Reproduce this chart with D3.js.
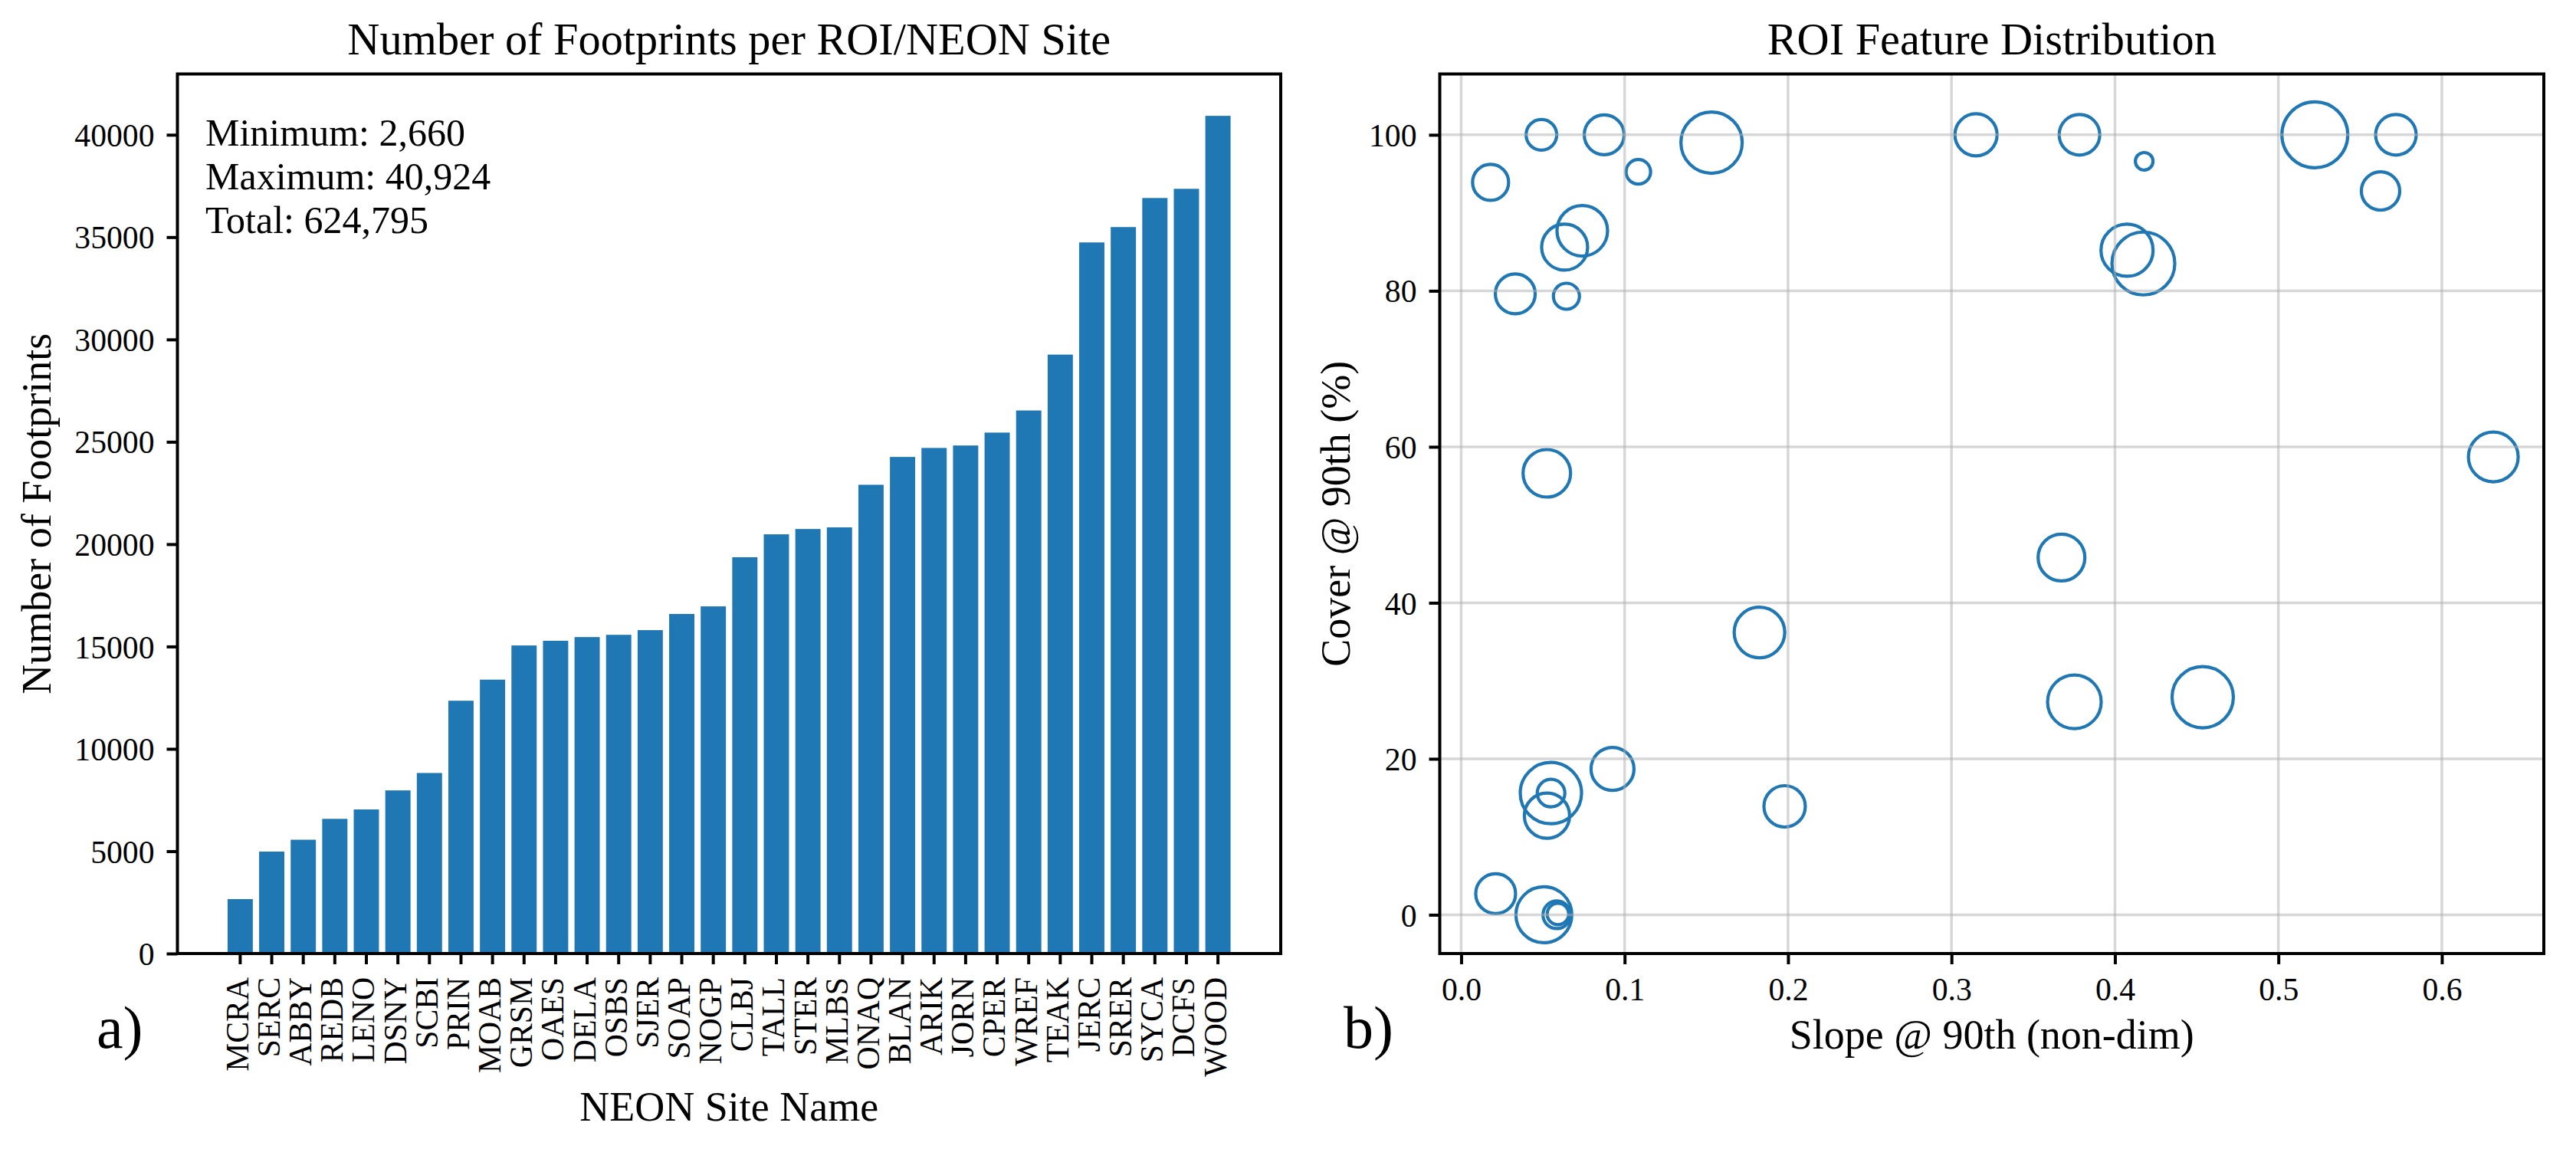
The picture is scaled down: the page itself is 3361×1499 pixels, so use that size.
<!DOCTYPE html>
<html>
<head>
<meta charset="utf-8">
<script src="https://cdn.jsdelivr.net/npm/d3@7"></script>
<style>
  html, body { margin: 0; padding: 0; background: #ffffff; }
  svg { display: block; font-family: "Liberation Serif", "Times New Roman", serif; }
</style>
</head>
<body>
<script>
// ---------------- data ----------------
const sites = ["MCRA","SERC","ABBY","REDB","LENO","DSNY","SCBI","PRIN","MOAB","GRSM","OAES","DELA","OSBS","SJER","SOAP","NOGP","CLBJ","TALL","STER","MLBS","ONAQ","BLAN","ARIK","JORN","CPER","WREF","TEAK","JERC","SRER","SYCA","DCFS","WOOD"];
const footprints = [2660,4980,5560,6580,7040,7970,8820,12350,13380,15050,15280,15460,15570,15800,16590,16960,19360,20480,20740,20820,22900,24260,24700,24820,25450,26530,29260,34740,35490,36910,37360,40924];
const footprintTicks = [0,5000,10000,15000,20000,25000,30000,35000,40000];
const summaryLines = ["Minimum: 2,660","Maximum: 40,924","Total: 624,795"];

const slope = [0.0491,0.0875,0.1532,0.1084,0.0180,0.0741,0.0633,0.0331,0.0644,
               0.3150,0.3783,0.4179,0.5223,0.5719,0.5625,0.4074,0.4174,
               0.0524,0.6315,0.3673,0.1825,0.3752,0.4537,
               0.0926,0.1979,0.0549,0.0550,0.0525,
               0.0211,0.0506,0.0585,0.0592];
const cover = [100,100,99.0,95.25,93.9,87.7,85.6,79.6,79.3,
               100,100,96.6,100,100,92.8,85.2,83.5,
               56.6,58.7,45.8,36.2,27.3,27.9,
               18.7,13.9,15.6,15.6,12.7,
               2.7,0,0,0.1];
const bubbleArea = [400,676,1600,256,552,1089,900,676,289,
                    756,702,132,1849,702,625,1156,1681,
                    961,1056,930,1089,1225,1600,
                    784,729,1600,324,870,
                    676,1332,324,196];
const slopeTicks = [0,0.1,0.2,0.3,0.4,0.5,0.6];
const coverTicks = [0,20,40,60,80,100];

// ---------------- layout ----------------
const W = 3361, H = 1499;
const FONT = "'Liberation Serif', 'Times New Roman', serif";
const svg = d3.select("body").append("svg").attr("width", W).attr("height", H);
svg.append("rect").attr("width", W).attr("height", H).attr("fill", "#fff");

const TICK_FS = 41.7, LABEL_FS = 54, TITLE_FS = 58.3;
const SPINE_W = 4, TICK_LEN = 14;
const blue = "#1f77b4";

function styleAxis(g) {
  g.attr("font-family", FONT).attr("font-size", TICK_FS);
  g.select(".domain").remove();
  g.selectAll(".tick line").attr("stroke", "#000").attr("stroke-width", SPINE_W);
  g.selectAll(".tick text").attr("fill", "#000")
    .style("font-family", FONT).style("font-size", TICK_FS + "px");
}

// ---------- Panel a: bar chart ----------
const A = {l: 231.5, r: 1671, t: 96.5, b: 1244};
const x = d3.scaleBand().domain(sites).range([A.l, A.r]).paddingInner(0.2).paddingOuter(1.59);
const y = d3.scaleLinear().domain([0, 42970]).range([A.b, A.t]);
const gA = svg.append("g");

gA.selectAll("rect.bar").data(sites).join("rect")
  .attr("class", "bar")
  .attr("x", d => x(d))
  .attr("width", x.bandwidth())
  .attr("y", (d, i) => y(footprints[i]))
  .attr("height", (d, i) => y(0) - y(footprints[i]))
  .attr("fill", blue);

const xAxA = gA.append("g").attr("transform", `translate(0,${A.b})`)
  .call(d3.axisBottom(x).tickSize(TICK_LEN).tickSizeOuter(0));
styleAxis(xAxA);
xAxA.selectAll(".tick text")
  .attr("transform", "rotate(-90)")
  .attr("x", -31).attr("y", 0).attr("dy", "0.25em")
  .style("text-anchor", "end");

const yAxA = gA.append("g").attr("transform", `translate(${A.l},0)`)
  .call(d3.axisLeft(y).tickValues(footprintTicks).tickFormat(d3.format("d")).tickSize(TICK_LEN).tickSizeOuter(0));
styleAxis(yAxA);
yAxA.selectAll(".tick text").attr("x", -30).attr("dy", "0.35em");

gA.append("rect").attr("x", A.l).attr("y", A.t).attr("width", A.r - A.l).attr("height", A.b - A.t)
  .attr("fill", "none").attr("stroke", "#000").attr("stroke-width", SPINE_W);

gA.selectAll("text.summary").data(summaryLines).join("text")
  .attr("class", "summary")
  .attr("x", 268).attr("y", (d, i) => 190 + i * 57)
  .style("font-size", "50px").text(d => d);

gA.append("text").attr("x", (A.l + A.r) / 2).attr("y", 70.7).attr("text-anchor", "middle")
  .style("font-size", TITLE_FS + "px").text("Number of Footprints per ROI/NEON Site");
gA.append("text").attr("x", (A.l + A.r) / 2).attr("y", 1462).attr("text-anchor", "middle")
  .style("font-size", LABEL_FS + "px").text("NEON Site Name");
gA.append("text").attr("transform", `translate(66,${(A.t + A.b) / 2}) rotate(-90)`).attr("text-anchor", "middle")
  .style("font-size", LABEL_FS + "px").text("Number of Footprints");
gA.append("text").attr("x", 126).attr("y", 1367).style("font-size", "78px").text("a)");

// ---------- Panel b: bubble scatter ----------
const B = {l: 1878.5, r: 3319, t: 96.5, b: 1244};
const sx = d3.scaleLinear().domain([-0.0131, 0.6624]).range([B.l, B.r]);
const sy = d3.scaleLinear().domain([-4.97, 107.8]).range([B.b, B.t]);
const rs = d3.scaleSqrt().domain([0, 2000]).range([0, Math.sqrt(2000)]);
const gB = svg.append("g");

gB.append("clipPath").attr("id", "clipB").append("rect")
  .attr("x", B.l).attr("y", B.t).attr("width", B.r - B.l).attr("height", B.b - B.t);

gB.append("g").attr("clip-path", "url(#clipB)")
  .selectAll("circle").data(slope).join("circle")
  .attr("cx", (d, i) => sx(slope[i]))
  .attr("cy", (d, i) => sy(cover[i]))
  .attr("r", (d, i) => rs(bubbleArea[i]))
  .attr("fill", "none").attr("stroke", blue).attr("stroke-width", 4.2);

const grid = gB.append("g").attr("stroke", "#b0b0b0").attr("stroke-opacity", 0.5).attr("stroke-width", 3.5);
grid.selectAll("line.vx").data(slopeTicks).join("line").attr("class", "vx")
  .attr("x1", d => sx(d)).attr("x2", d => sx(d)).attr("y1", B.t).attr("y2", B.b);
grid.selectAll("line.hy").data(coverTicks).join("line").attr("class", "hy")
  .attr("y1", d => sy(d)).attr("y2", d => sy(d)).attr("x1", B.l).attr("x2", B.r);

const xAxB = gB.append("g").attr("transform", `translate(0,${B.b})`)
  .call(d3.axisBottom(sx).tickValues(slopeTicks).tickFormat(d3.format(".1f")).tickSize(TICK_LEN).tickSizeOuter(0));
styleAxis(xAxB);
xAxB.selectAll(".tick text").attr("y", 61).attr("dy", 0);

const yAxB = gB.append("g").attr("transform", `translate(${B.l},0)`)
  .call(d3.axisLeft(sy).tickValues(coverTicks).tickFormat(d3.format("d")).tickSize(TICK_LEN).tickSizeOuter(0));
styleAxis(yAxB);
yAxB.selectAll(".tick text").attr("x", -30).attr("dy", "0.35em");

gB.append("rect").attr("x", B.l).attr("y", B.t).attr("width", B.r - B.l).attr("height", B.b - B.t)
  .attr("fill", "none").attr("stroke", "#000").attr("stroke-width", SPINE_W);

gB.append("text").attr("x", (B.l + B.r) / 2).attr("y", 70.7).attr("text-anchor", "middle")
  .style("font-size", TITLE_FS + "px").text("ROI Feature Distribution");
gB.append("text").attr("x", (B.l + B.r) / 2).attr("y", 1368).attr("text-anchor", "middle")
  .style("font-size", LABEL_FS + "px").text("Slope @ 90th (non-dim)");
gB.append("text").attr("transform", `translate(1761,${(B.t + B.b) / 2}) rotate(-90)`).attr("text-anchor", "middle")
  .style("font-size", LABEL_FS + "px").text("Cover @ 90th (%)");
gB.append("text").attr("x", 1753).attr("y", 1367).style("font-size", "78px").text("b)");
</script>
</body>
</html>
